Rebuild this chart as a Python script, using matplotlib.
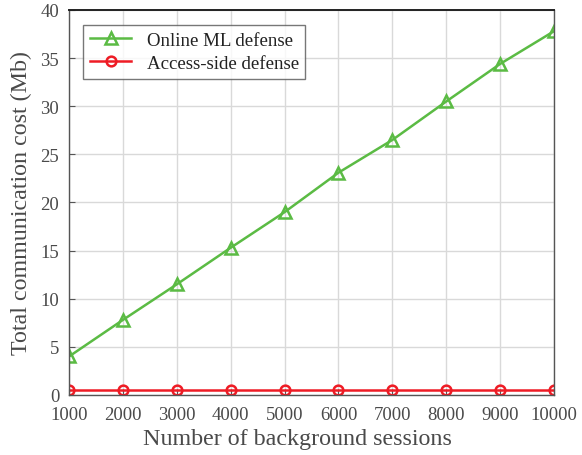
import matplotlib.pyplot as plt

# communication cost vs. number of background sessions
sessions = [1000, 2000, 3000, 4000, 5000, 6000, 7000, 8000, 9000, 10000]
online_ml = [4.0, 7.8, 11.5, 15.3, 19.0, 23.1, 26.5, 30.5, 34.4, 37.8]
access_side = [0.5, 0.5, 0.5, 0.5, 0.5, 0.5, 0.5, 0.5, 0.5, 0.5]

plt.rcParams['font.family'] = ['Liberation Serif', 'DejaVu Serif']
text_col = '#4a4a4a'

fig = plt.figure(figsize=(5.82, 4.56), dpi=100)
ax = fig.add_axes([0.1186, 0.1316, 0.8334, 0.8443])

ax.plot(sessions, online_ml, color='#5bbb44', lw=1.8, marker='^', ms=9,
        mfc='none', mew=1.8, label='Online ML defense')
ax.plot(sessions, access_side, color='#ee1c25', lw=1.8, marker='o', ms=7,
        mfc='none', mew=1.8, label='Access-side defense')

ax.set_xlim(1000, 10000)
ax.set_ylim(0, 40)
ax.set_xticks(sessions)
ax.set_yticks(range(0, 41, 5))
ax.grid(True, color='#d9d9d9', lw=1.0)
ax.set_axisbelow(True)

ax.tick_params(direction='in', length=4.5, colors='#555555', labelsize=13.5,
               labelcolor=text_col)
ax.tick_params(axis='x', pad=8)
ax.tick_params(axis='y', pad=7)
for s in ax.spines.values():
    s.set_color('#555555')
    s.set_linewidth(1.0)
ax.spines['top'].set_color('#222222')
ax.spines['top'].set_linewidth(1.4)

ax.set_xlabel('Number of background sessions', fontsize=17.3, color=text_col,
              labelpad=3)
ax.xaxis.set_label_coords(0.47, -0.085)
ax.set_ylabel('Total communication cost (Mb)', fontsize=17.3, color=text_col,
              labelpad=6)

leg = ax.legend(loc='upper left', bbox_to_anchor=(0.01, 0.985), fontsize=13.6,
                frameon=True, fancybox=False, edgecolor='#555555',
                handlelength=2.2, handletextpad=0.8, borderpad=0.35,
                labelspacing=0.3)
leg.get_frame().set_linewidth(1.0)
for t in leg.get_texts():
    t.set_color('#222222')

fig.savefig('out.png', dpi=100)
